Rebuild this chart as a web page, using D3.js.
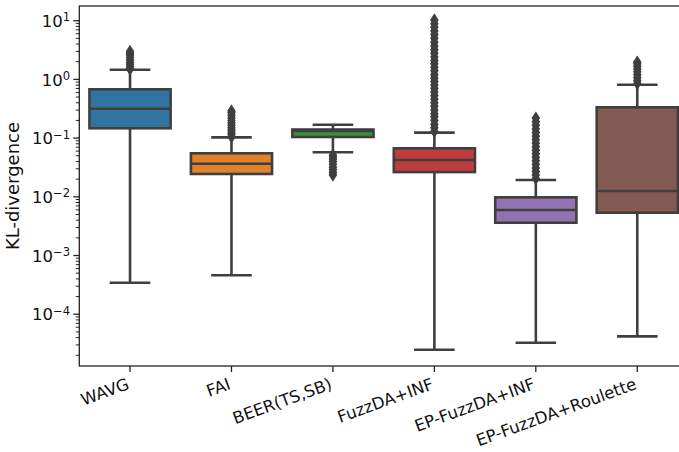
<!DOCTYPE html>
<html>
<head>
<meta charset="utf-8">
<script src="https://cdn.jsdelivr.net/npm/d3@7"></script>
<style>
  html, body { margin: 0; padding: 0; background: #fff; }
  svg { display: block; font-family: "DejaVu Sans", sans-serif; }
</style>
</head>
<body>
<svg id="chart" width="679" height="452"></svg>
<script>
// Methods compared
const categories = ["WAVG", "FAI", "BEER(TS,SB)", "FuzzDA+INF", "EP-FuzzDA+INF", "EP-FuzzDA+Roulette"];
const boxColors = ["#3274a1", "#e1812c", "#3a923a", "#c03d3e", "#9372b2", "#845b53"];

// Five-number summaries of KL-divergence per method
const whiskerLow  = [3.44e-4, 4.6e-4, 0.0573, 2.48e-5, 3.27e-5, 4.2e-5];
const q1          = [0.147,   0.0245, 0.1045, 0.0264, 0.00362, 0.00536];
const median      = [0.317,   0.0366, 0.132,  0.0424, 0.00595, 0.01256];
const q3          = [0.678,   0.0551, 0.140,  0.067,  0.0098,  0.335];
const whiskerHigh = [1.46,    0.103,  0.169,  0.124,  0.0193,  0.81];

// Outlying values beyond the whiskers
const outWAVG = [1.5, 1.65, 1.8, 1.95, 2.15, 2.35, 2.6, 2.8, 3.0];
const outFAI = [0.105, 0.115, 0.125, 0.137, 0.15, 0.165, 0.18, 0.2, 0.22, 0.245, 0.27, 0.29];
const outBEER = [0.0235, 0.026, 0.029, 0.032, 0.036, 0.04, 0.044, 0.048, 0.0515];
const outFuzzINF = [0.13, 0.15, 0.17, 0.2, 0.23, 0.26, 0.3, 0.35, 0.4, 0.46, 0.53, 0.61, 0.7, 0.8,
  0.92, 1.05, 1.2, 1.4, 1.6, 1.85, 2.1, 2.4, 2.8, 3.2, 3.7, 4.3, 5.0, 5.8, 6.7, 7.7, 8.9, 10.3];
const outEPINF = [0.0205, 0.0235, 0.027, 0.031, 0.036, 0.041, 0.047, 0.054, 0.062, 0.071, 0.082,
  0.094, 0.108, 0.124, 0.143, 0.165, 0.19, 0.22];
const outRoulette = [0.85, 0.95, 1.07, 1.2, 1.35, 1.5, 1.68, 1.85, 1.98];
const outliers = [outWAVG, outFAI, outBEER, outFuzzINF, outEPINF, outRoulette];

const yTickExponents = [1, 0, -1, -2, -3, -4];
const yLabel = "KL-divergence";

const svg = d3.select("#chart");
const frame = { left: 79.3, right: 688, top: 6, bottom: 366 };
const lineColor = "#3f3f3f";
const tickFont = 16.5;

const x = d3.scaleBand()
  .domain(categories)
  .range([frame.left, frame.right])
  .paddingInner(0).paddingOuter(0);

const y = d3.scaleLog()
  .domain([Math.pow(10, -4.882), Math.pow(10, 1.2504)])
  .range([frame.bottom, frame.top]);

const bw = x.bandwidth();
const boxW = bw * 0.8;
const capW = boxW * 0.5;

const plot = svg.append("g");
svg.append("clipPath").attr("id", "plotclip")
  .append("rect")
  .attr("x", frame.left).attr("y", frame.top)
  .attr("width", frame.right - frame.left).attr("height", frame.bottom - frame.top);
plot.attr("clip-path", "url(#plotclip)");

const data = categories.map((c, i) => ({
  name: c, color: boxColors[i],
  lo: whiskerLow[i], q1: q1[i], med: median[i], q3: q3[i], hi: whiskerHigh[i],
  out: outliers[i]
}));

const groups = plot.selectAll("g.box").data(data).join("g")
  .attr("class", "box")
  .attr("transform", d => `translate(${x(d.name) + bw / 2},0)`);

// whiskers
groups.append("line")
  .attr("x1", 0).attr("x2", 0)
  .attr("y1", d => y(d.q3)).attr("y2", d => y(d.hi))
  .attr("stroke", lineColor).attr("stroke-width", 2.6);
groups.append("line")
  .attr("x1", 0).attr("x2", 0)
  .attr("y1", d => y(d.q1)).attr("y2", d => y(d.lo))
  .attr("stroke", lineColor).attr("stroke-width", 2.6);
// caps
groups.selectAll("line.cap").data(d => [d.lo, d.hi]).join("line")
  .attr("class", "cap")
  .attr("x1", -capW / 2).attr("x2", capW / 2)
  .attr("y1", v => y(v)).attr("y2", v => y(v))
  .attr("stroke", lineColor).attr("stroke-width", 2.6);

// boxes
groups.append("rect")
  .attr("x", -boxW / 2)
  .attr("width", boxW)
  .attr("y", d => y(d.q3))
  .attr("height", d => y(d.q1) - y(d.q3))
  .attr("fill", d => d.color)
  .attr("stroke", lineColor).attr("stroke-width", 2.6);
// medians
groups.append("line")
  .attr("x1", -boxW / 2).attr("x2", boxW / 2)
  .attr("y1", d => y(d.med)).attr("y2", d => y(d.med))
  .attr("stroke", lineColor).attr("stroke-width", 2.6);

// outliers as thin diamonds
const hw = 3.5, hh = 5.4;
groups.selectAll("path.flier").data(d => d.out).join("path")
  .attr("class", "flier")
  .attr("d", v => {
    const cy = y(v);
    return `M0,${cy - hh}L${hw},${cy}L0,${cy + hh}L${-hw},${cy}Z`;
  })
  .attr("fill", lineColor)
  .attr("stroke", lineColor).attr("stroke-width", 1.3)
  .attr("stroke-linejoin", "miter");

// axes frame
svg.append("rect")
  .attr("x", frame.left).attr("y", frame.top)
  .attr("width", frame.right - frame.left).attr("height", frame.bottom - frame.top)
  .attr("fill", "none").attr("stroke", "#222").attr("stroke-width", 1.3);

// y axis ticks: major and minor
const yAxisG = svg.append("g");
const minorVals = [];
for (let e = -5; e <= 1; e++) {
  for (let m = 2; m <= 9; m++) {
    const v = m * Math.pow(10, e);
    if (v >= y.domain()[0] && v <= y.domain()[1]) minorVals.push(v);
  }
}
yAxisG.selectAll("line.minor").data(minorVals).join("line")
  .attr("x1", frame.left - 3.5).attr("x2", frame.left)
  .attr("y1", v => y(v)).attr("y2", v => y(v))
  .attr("stroke", "#222").attr("stroke-width", 1);
yAxisG.selectAll("line.major").data(yTickExponents).join("line")
  .attr("x1", frame.left - 6).attr("x2", frame.left)
  .attr("y1", e => y(Math.pow(10, e))).attr("y2", e => y(Math.pow(10, e)))
  .attr("stroke", "#222").attr("stroke-width", 1.3);

const yLabels = yAxisG.selectAll("text.ytick").data(yTickExponents).join("text")
  .attr("x", 70)
  .attr("y", e => y(Math.pow(10, e)))
  .attr("dy", "0.38em")
  .attr("text-anchor", "end")
  .attr("font-size", tickFont)
  .attr("fill", "#111");
yLabels.append("tspan").text("10");
yLabels.append("tspan")
  .attr("dy", "-0.5em")
  .attr("font-size", tickFont * 0.7)
  .text(e => e < 0 ? "\u2212" + Math.abs(e) : String(e));

// y axis title
svg.append("text")
  .attr("transform", `translate(19,${(frame.top + frame.bottom) / 2}) rotate(-90)`)
  .attr("text-anchor", "middle")
  .attr("font-size", 18)
  .attr("fill", "#111")
  .text(yLabel);

// x axis ticks and rotated labels
const xAxisG = svg.append("g");
xAxisG.selectAll("line").data(categories).join("line")
  .attr("x1", c => x(c) + bw / 2).attr("x2", c => x(c) + bw / 2)
  .attr("y1", frame.bottom).attr("y2", frame.bottom + 6)
  .attr("stroke", "#222").attr("stroke-width", 1.3);
xAxisG.selectAll("text").data(categories).join("text")
  .attr("transform", c => `translate(${x(c) + bw / 2 - 4},${frame.bottom + 11}) rotate(-20)`)
  .attr("text-anchor", "end")
  .attr("dy", "0.75em")
  .attr("font-size", tickFont)
  .attr("fill", "#111")
  .text(c => c);
</script>
</body>
</html>
